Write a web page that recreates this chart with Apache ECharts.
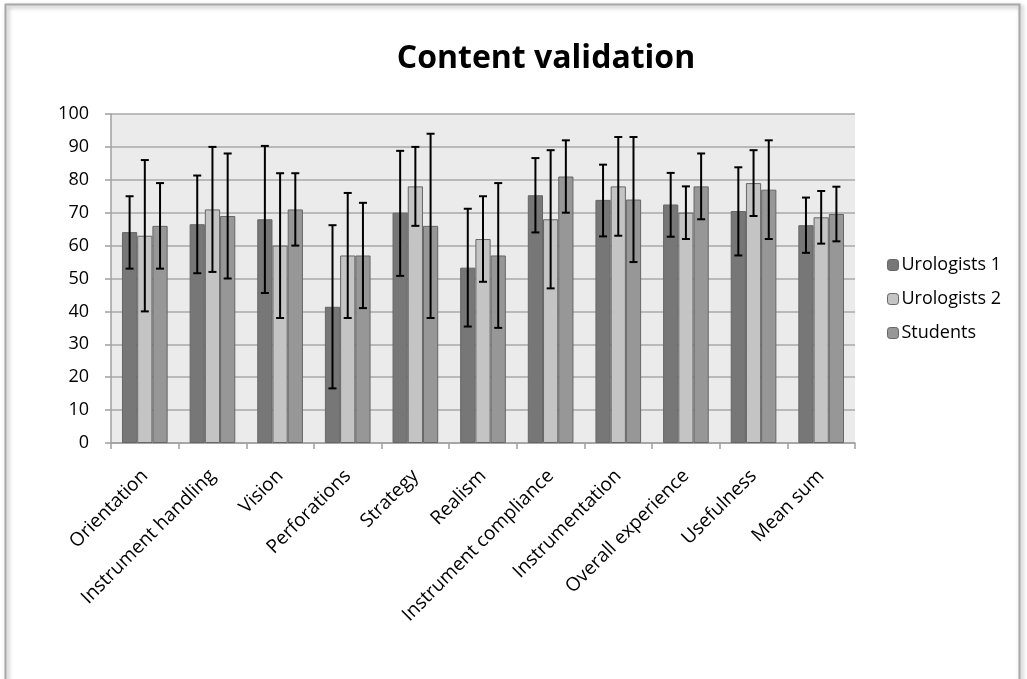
<!DOCTYPE html>
<html>
<head>
<meta charset="utf-8">
<script src="https://cdn.jsdelivr.net/npm/echarts@6/dist/echarts.min.js"></script>
<style>
html,body{margin:0;padding:0;background:#fff;}
#chart{width:1027px;height:679px;}
</style>
</head>
<body>
<div id="chart"></div>
<script>
var categories = ['Orientation','Instrument handling','Vision','Perforations','Strategy','Realism','Instrument compliance','Instrumentation','Overall experience','Usefulness','Mean sum'];
var seriesNames = ['Urologists 1','Urologists 2','Students'];
var yTicks = [0,10,20,30,40,50,60,70,80,90,100];

var urologists1 = [64.1, 66.5, 68, 41.4, 70, 53.3, 75.3, 73.9, 72.5, 70.5, 66.2];
var urologists1Low = [53, 51.6, 45.6, 16.6, 50.8, 35.4, 64, 62.8, 62.7, 57, 57.8];
var urologists1High = [75, 81.3, 90.3, 66.2, 88.8, 71.2, 86.6, 84.6, 82.1, 83.8, 74.6];

var urologists2 = [63, 71, 60, 57, 78, 62, 68, 78, 70, 79, 68.6];
var urologists2Low = [40, 52, 38, 38, 66, 49, 47, 63, 62, 69, 60.6];
var urologists2High = [86, 90, 82, 76, 90, 75, 89, 93, 78, 89, 76.6];

var students = [66, 69, 71, 57, 66, 57, 81, 74, 78, 77, 69.6];
var studentsLow = [53, 50, 60, 41, 38, 35, 70, 55, 68, 62, 61.3];
var studentsHigh = [79, 88, 82, 73, 94, 79, 92, 93, 88, 92, 77.9];

var colors = ['#777777', '#c4c4c4', '#979797'];
var barCatGap = 0.325;

function errorSeries(idx, low, high) {
  var data = categories.map(function (c, i) { return [i, low[i], high[i]]; });
  return {
    type: 'custom',
    name: seriesNames[idx] + ' error',
    silent: true,
    z: 10,
    data: data,
    encode: {x: 0, y: [1, 2]},
    renderItem: function (params, api) {
      var ci = api.value(0);
      var lo = api.coord([ci, api.value(1)]);
      var hi = api.coord([ci, api.value(2)]);
      var catW = api.size([1, 0])[0];
      var bw = catW * (1 - barCatGap) / 3;
      var x = lo[0] + (idx - 1) * bw;
      var cap = 4;
      var st = {stroke: '#000', lineWidth: 2};
      return {
        type: 'group',
        children: [
          {type: 'line', shape: {x1: x, y1: lo[1], x2: x, y2: hi[1]}, style: st},
          {type: 'line', shape: {x1: x - cap, y1: lo[1], x2: x + cap, y2: lo[1]}, style: st},
          {type: 'line', shape: {x1: x - cap, y1: hi[1], x2: x + cap, y2: hi[1]}, style: st}
        ]
      };
    }
  };
}

function barSeries(idx, vals) {
  return {
    type: 'bar',
    name: seriesNames[idx],
    data: vals,
    barGap: '0%',
    barCategoryGap: (barCatGap * 100) + '%',
    itemStyle: {color: colors[idx], borderColor: '#666666', borderWidth: 1}
  };
}

var chart = echarts.init(document.getElementById('chart'));
var font = '"Open Sans", "Noto Sans", sans-serif';
chart.setOption({
  animation: false,
  textStyle: {fontFamily: font},
  title: {
    text: 'Content validation',
    left: 541, textAlign: 'center', top: 38,
    textStyle: {fontSize: 32, fontWeight: 'bold', color: '#000', fontFamily: font}
  },
  graphic: [{
    type: 'rect', shape: {x: 5.5, y: 4.5, width: 1014, height: 700},
    style: {fill: null, stroke: '#a8a8a8', lineWidth: 2, shadowBlur: 4, shadowColor: 'rgba(0,0,0,0.35)', shadowOffsetX: 2, shadowOffsetY: 2},
    silent: true, z: -10
  }],
  legend: {
    orient: 'vertical',
    left: 882, top: 251,
    itemWidth: 11, itemHeight: 11, itemGap: 16,
    data: seriesNames,
    textStyle: {fontSize: 18, color: '#000', fontFamily: font, padding: [0,0,0,-2]},
    itemStyle: {borderColor: '#666666', borderWidth: 1}
  },
  grid: {left: 111, right: 172, top: 114, bottom: 236, show: true, backgroundColor: '#ebebeb', borderWidth: 0},
  xAxis: {
    type: 'category',
    data: categories,
    axisLine: {lineStyle: {color: '#a0a0a0', width: 1.5}},
    axisTick: {show: true, alignWithLabel: false, length: 6, lineStyle: {color: '#a0a0a0', width: 1.5}},
    axisLabel: {rotate: 45, interval: 0, fontSize: 19, color: '#000', margin: 30, fontFamily: font}
  },
  yAxis: {
    type: 'value', min: 0, max: 100, interval: 10,
    axisLine: {show: true, lineStyle: {color: '#a0a0a0', width: 1.5}},
    axisTick: {show: true, inside: false, length: 6, lineStyle: {color: '#a0a0a0', width: 1.5}},
    axisLabel: {fontSize: 18, color: '#000', margin: 22, fontFamily: font,
      formatter: function (v) { return yTicks.indexOf(v) >= 0 ? String(v) : ''; }},
    splitLine: {lineStyle: {color: '#a8a8a8', width: 1.5}}
  },
  series: [
    barSeries(0, urologists1),
    barSeries(1, urologists2),
    barSeries(2, students),
    errorSeries(0, urologists1Low, urologists1High),
    errorSeries(1, urologists2Low, urologists2High),
    errorSeries(2, studentsLow, studentsHigh)
  ]
});
</script>
</body>
</html>
